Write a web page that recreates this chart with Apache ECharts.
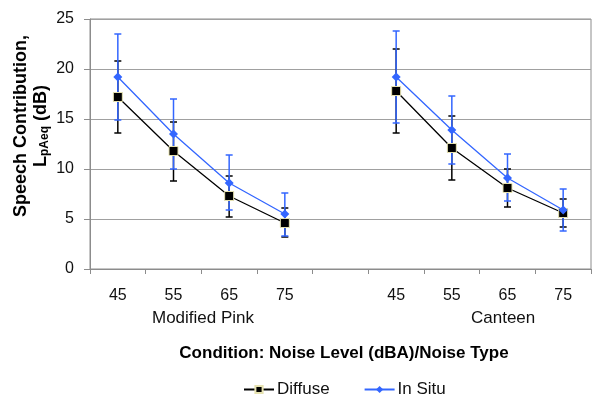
<!DOCTYPE html>
<html>
<head>
<meta charset="utf-8">
<script src="https://cdn.jsdelivr.net/npm/echarts@6/dist/echarts.min.js"></script>
<style>
  html, body { margin: 0; padding: 0; background: #fff; }
  #chart { width: 593px; height: 395px; }
</style>
</head>
<body>
<div id="chart"></div>
<script>
// noise levels per group, one blank slot between the groups
const levels = ["45", "55", "65", "75"];
const groups = ["Modified Pink", "Canteen"];
const yTicks = [0, 5, 10, 15, 20, 25];

// Modified Pink
const pinkDiffuse = [17.2, 11.8, 7.3, 4.6];
const pinkDiffuseHi = [20.8, 14.7, 9.3, 6.1];
const pinkDiffuseLo = [13.6, 8.8, 5.2, 3.2];
const pinkInSitu = [19.2, 13.5, 8.6, 5.5];
const pinkInSituHi = [23.5, 17.0, 11.4, 7.6];
const pinkInSituLo = [14.9, 10.0, 5.9, 3.3];

// Canteen
const canteenDiffuse = [17.8, 12.1, 8.1, 5.6];
const canteenDiffuseHi = [22.0, 15.3, 10.0, 7.0];
const canteenDiffuseLo = [13.6, 8.9, 6.2, 4.2];
const canteenInSitu = [19.2, 13.9, 9.1, 5.9];
const canteenInSituHi = [23.8, 17.3, 11.5, 8.0];
const canteenInSituLo = [14.6, 10.5, 6.8, 3.8];

const BLUE = "#3366ff";
const AXIS_GRAY = "#8c8c8c";
const FONT = "'Liberation Sans', Arial, sans-serif";

const categories = [...levels, "", ...levels];
const join = (a, b) => [...a, "-", ...b];

const errData = (lo, hi) =>
  lo.map((l, i) => (l === "-" ? null : [i, l, hi[i]])).filter(Boolean);

const diffuseErr = errData(
  join(pinkDiffuseLo, canteenDiffuseLo),
  join(pinkDiffuseHi, canteenDiffuseHi),
);
const inSituErr = errData(
  join(pinkInSituLo, canteenInSituLo),
  join(pinkInSituHi, canteenInSituHi),
);

const errorBar = (color) => (params, api) => {
  const top = api.coord([api.value(0), api.value(2)]);
  const bot = api.coord([api.value(0), api.value(1)]);
  const half = 3.5;
  const style = { stroke: color, lineWidth: 1.5 };
  return {
    type: "group",
    children: [
      { type: "line", shape: { x1: top[0], y1: top[1], x2: bot[0], y2: bot[1] }, style },
      { type: "line", shape: { x1: top[0] - half, y1: top[1], x2: top[0] + half, y2: top[1] }, style },
      { type: "line", shape: { x1: bot[0] - half, y1: bot[1], x2: bot[0] + half, y2: bot[1] }, style },
    ],
  };
};

const chart = echarts.init(document.getElementById("chart"), null, { renderer: "canvas" });

chart.setOption({
  animation: false,
  textStyle: { fontFamily: FONT },
  grid: {
    left: 90,
    right: 2,
    top: 19,
    bottom: 126,
    show: true,
    borderColor: AXIS_GRAY,
    borderWidth: 1,
  },
  xAxis: {
    type: "category",
    data: categories,
    axisLine: { lineStyle: { color: AXIS_GRAY, width: 1 } },
    axisTick: { show: true, length: 5, lineStyle: { color: AXIS_GRAY } },
    axisLabel: { color: "#111", fontSize: 16, margin: 19, fontFamily: FONT, interval: 0 },
    splitLine: { show: false },
  },
  yAxis: {
    type: "value",
    min: yTicks[0],
    max: yTicks[yTicks.length - 1],
    interval: 5,
    axisLine: { show: true, lineStyle: { color: AXIS_GRAY, width: 1 } },
    axisTick: { show: true, length: 6, lineStyle: { color: AXIS_GRAY } },
    axisLabel: { color: "#111", fontSize: 16, margin: 16, fontFamily: FONT },
    splitLine: { show: true, lineStyle: { color: "#a0a0a0", width: 1 } },
  },
  legend: {
    top: 376,
    left: 238,
    itemWidth: 30,
    itemHeight: 9,
    itemGap: 34,
    textStyle: { fontSize: 17, color: "#111", fontFamily: FONT, padding: [0, 0, 0, -2] },
    data: ["Diffuse", "In Situ"],
  },
  graphic: [
    {
      type: "text",
      left: 152,
      top: 310,
      style: { text: groups[0], font: "17px " + FONT, fill: "#111" },
    },
    {
      type: "text",
      left: 471,
      top: 310,
      style: { text: groups[1], font: "17px " + FONT, fill: "#111" },
    },
    {
      type: "text",
      x: 344,
      y: 353,
      style: {
        text: "Condition: Noise Level (dBA)/Noise Type",
        font: "bold 17px " + FONT,
        fill: "#000",
        align: "center",
        verticalAlign: "middle",
      },
    },
    {
      type: "text",
      x: 31,
      y: 126,
      rotation: Math.PI / 2,
      style: {
        text: "{t|Speech Contribution,}\n{t|L}{s|pAeq}{t| (dB)}",
        align: "center",
        verticalAlign: "middle",
        fill: "#000",
        rich: {
          t: { font: "bold 18px " + FONT, lineHeight: 20, fill: "#000" },
          s: { font: "bold 12px " + FONT, lineHeight: 12, verticalAlign: "bottom", fill: "#000" },
        },
      },
    },
  ],
  series: [
    {
      type: "custom",
      name: "diffuseErr",
      renderItem: errorBar("#000"),
      data: diffuseErr,
      z: 1,
      silent: true,
    },
    {
      type: "custom",
      name: "inSituErr",
      renderItem: errorBar(BLUE),
      data: inSituErr,
      z: 2,
      silent: true,
    },
    {
      type: "line",
      name: "Diffuse",
      data: join(pinkDiffuse, canteenDiffuse),
      symbol: "rect",
      symbolSize: 9,
      color: "#000",
      lineStyle: { color: "#000", width: 1.3 },
      itemStyle: { color: "#000", borderColor: "#e6e2b0", borderWidth: 1 },
      connectNulls: false,
      z: 3,
    },
    {
      type: "line",
      name: "In Situ",
      data: join(pinkInSitu, canteenInSitu),
      symbol: "diamond",
      symbolSize: 9,
      color: BLUE,
      lineStyle: { color: BLUE, width: 1.3 },
      itemStyle: { color: BLUE },
      connectNulls: false,
      z: 4,
    },
  ],
});
</script>
</body>
</html>
